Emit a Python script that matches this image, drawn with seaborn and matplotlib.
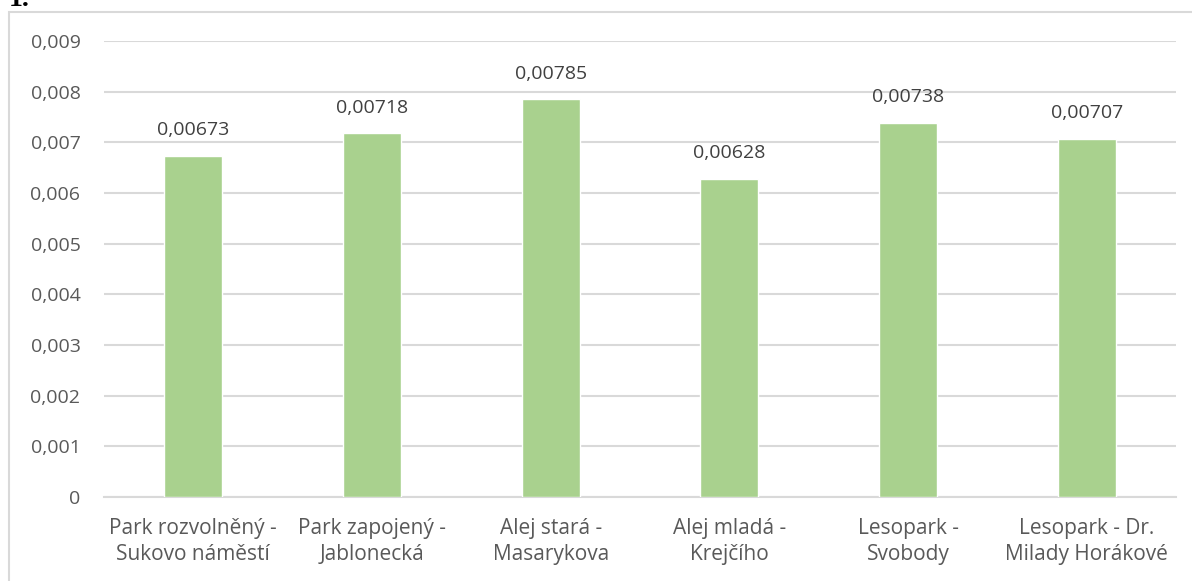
import matplotlib
matplotlib.use("Agg")
import matplotlib.pyplot as plt
import seaborn as sns
import pandas as pd
from matplotlib.patches import Rectangle
from matplotlib.ticker import FuncFormatter

categories = [
    "Park rozvolněný -\nSukovo náměstí",
    "Park zapojený -\nJablonecká",
    "Alej stará -\nMasarykova",
    "Alej mladá -\nKrejčího",
    "Lesopark -\nSvobody",
    "Lesopark - Dr.\nMilady Horákové",
]
values = [0.00673, 0.00718, 0.00785, 0.00628, 0.00738, 0.00707]
value_labels = ["0,00673", "0,00718", "0,00785", "0,00628", "0,00738", "0,00707"]
y_ticks = [0.000, 0.001, 0.002, 0.003, 0.004, 0.005, 0.006, 0.007, 0.008, 0.009]

df = pd.DataFrame({"site": categories, "value": values})

sns.set_theme(style="white")
plt.rcParams["font.family"] = ["Open Sans", "DejaVu Sans"]

W, H = 1192, 581
FS_NUM = 14
FS_CAT = 15
fig = plt.figure(figsize=(W / 100, H / 100), dpi=100)
ax = fig.add_axes([104 / W, 1 - 497 / H, (1176 - 104) / W, (497 - 41) / H])

sns.barplot(data=df, x="site", y="value", color="#A9D18E", width=0.325,
            saturation=1, ax=ax, zorder=3)

ax.set_ylim(0, 0.009)
ax.set_xlim(-0.5, len(categories) - 0.5)
ax.set_yticks(y_ticks)
ax.yaxis.set_major_formatter(FuncFormatter(
    lambda v, _: "0" if abs(v) < 1e-12 else f"{v:.3f}".replace(".", ",")))
ax.grid(axis="y", color="#D9D9D9", linewidth=1.5, zorder=0)
ax.set_axisbelow(True)
for s in ("top", "right", "left"):
    ax.spines[s].set_visible(False)
ax.spines["bottom"].set_color("#D9D9D9")
ax.spines["bottom"].set_linewidth(1.5)
ax.set_xlabel("")
ax.set_ylabel("")
ax.tick_params(axis="y", length=0, pad=17, labelsize=FS_NUM, labelcolor="#595959")
ax.tick_params(axis="x", length=0, pad=15, labelsize=FS_CAT, labelcolor="#595959")
for lbl in ax.get_xticklabels():
    lbl.set_linespacing(1.32)

for container in ax.containers:
    ax.bar_label(container, labels=value_labels, padding=12, fontsize=FS_NUM,
                 color="#404040")

# chart frame
fig.patches.append(Rectangle((9 / W, -0.1), 1.2, 1 - 12 / H + 0.1,
                             transform=fig.transFigure, fill=False,
                             edgecolor="#D9D9D9", linewidth=1.5))
fig.text(9 / W, 1 + 13 / H, "1.", fontsize=20, family="Liberation Serif",
         weight="bold", color="black", va="top", ha="left")

fig.savefig("out.png", dpi=100)
